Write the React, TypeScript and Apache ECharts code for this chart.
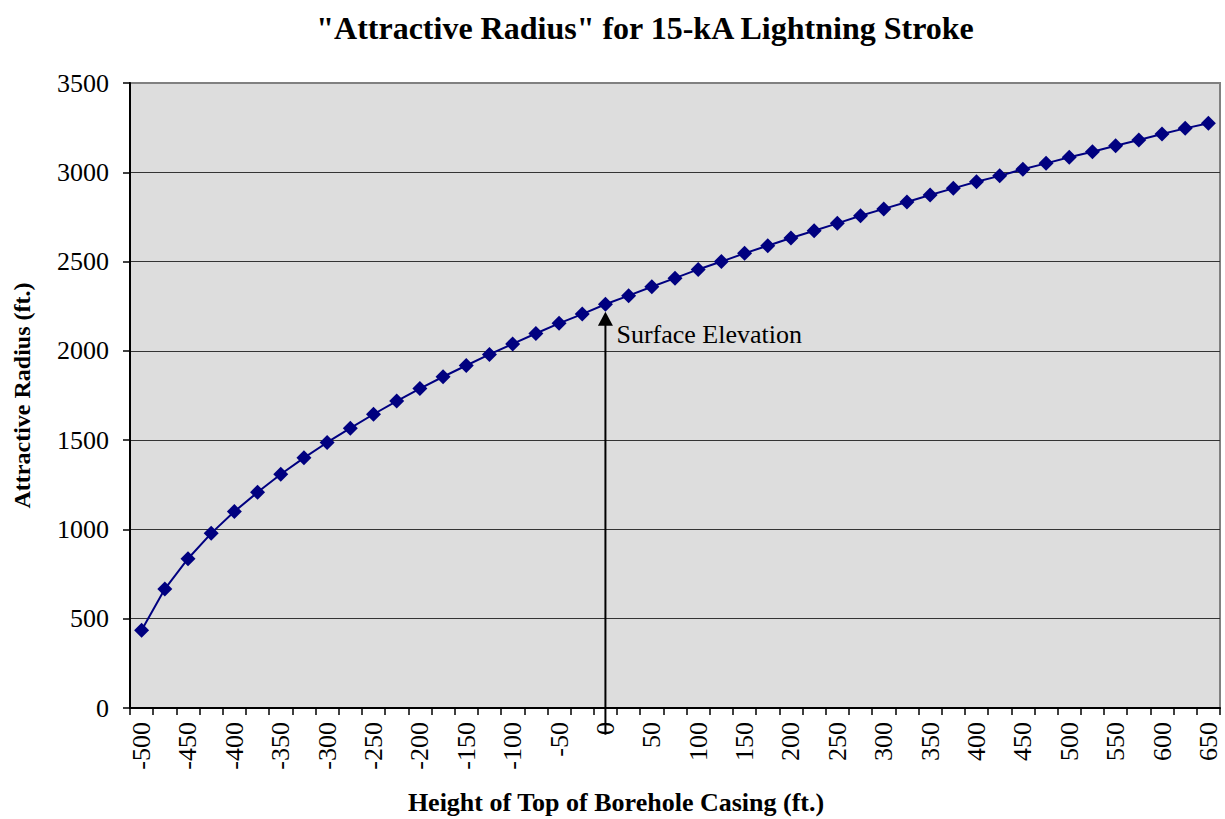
import React, { useEffect, useRef } from "react";
import * as echarts from "echarts";

const categories = [
  "-500", "-475", "-450", "-425", "-400", "-375", "-350", "-325", "-300", "-275",
  "-250", "-225", "-200", "-175", "-150", "-125", "-100", "-75", "-50", "-25",
  "0", "25", "50", "75", "100", "125", "150", "175", "200", "225",
  "250", "275", "300", "325", "350", "375", "400", "425", "450", "475",
  "500", "525", "550", "575", "600", "625", "650",
];

const radiusValues = [
  436, 666, 836, 978, 1100, 1208, 1309, 1401, 1487, 1567,
  1645, 1719, 1789, 1855, 1918, 1980, 2039, 2097, 2154, 2206,
  2261, 2309, 2359, 2407, 2456, 2500, 2546, 2589, 2632, 2673,
  2714, 2757, 2795, 2834, 2873, 2910, 2947, 2980, 3017, 3050,
  3084, 3115, 3149, 3181, 3214, 3246, 3275,
];

const yTicks = { min: 0, max: 3500, interval: 500 };

const titleText = '"Attractive Radius" for 15-kA Lightning Stroke';
const xAxisTitle = "Height of Top of Borehole Casing (ft.)";
const yAxisTitle = "Attractive Radius (ft.)";
const annotationText = "Surface Elevation";
const arrowCategory = "0";
const arrowFrom = -150;
const arrowTo = 2180;
const annotationValue = 2089;

const FONT = '"Liberation Serif", "Times New Roman", Times, serif';

export default function App() {
  const ref = useRef<HTMLDivElement>(null);

  useEffect(() => {
    if (!ref.current) return;
    const chart = echarts.init(ref.current, undefined, { renderer: "svg" });
    chart.setOption({
      animation: false,
      backgroundColor: "#ffffff",
      textStyle: { fontFamily: FONT },
      title: [
        {
          text: titleText,
          left: 640,
          top: 7,
          textAlign: "center",
          textStyle: { fontFamily: FONT, fontSize: 32, fontWeight: "bold", color: "#000" },
        },
        {
          text: xAxisTitle,
          left: 611,
          top: 784,
          textAlign: "center",
          textStyle: { fontFamily: FONT, fontSize: 26, fontWeight: "bold", color: "#000" },
        },
      ],
      grid: {
        left: 130,
        right: 5,
        top: 83,
        bottom: 111,
        show: true,
        backgroundColor: "#dddddd",
        borderColor: "#808080",
        borderWidth: 2,
      },
      xAxis: {
        type: "category",
        data: categories,
        boundaryGap: true,
        axisLine: { show: true, lineStyle: { color: "#000", width: 2 } },
        axisTick: { show: true, interval: 0, length: 7, lineStyle: { color: "#000", width: 1.5 } },
        axisLabel: {
          interval: 1,
          rotate: 90,
          margin: 14,
          fontFamily: FONT,
          fontSize: 26,
          color: "#000",
        },
        splitLine: { show: false },
      },
      yAxis: {
        type: "value",
        min: yTicks.min,
        max: yTicks.max,
        interval: yTicks.interval,
        name: yAxisTitle,
        nameLocation: "middle",
        nameGap: 96,
        nameTextStyle: { fontFamily: FONT, fontSize: 24, fontWeight: "bold", color: "#000" },
        axisLine: { show: true, lineStyle: { color: "#000", width: 2 } },
        axisTick: { show: true, length: 7, lineStyle: { color: "#000", width: 1.5 } },
        axisLabel: {
          margin: 21,
          fontFamily: FONT,
          fontSize: 26,
          color: "#000",
          formatter: (v: number) => String(v),
        },
        splitLine: { show: true, showMaxLine: false, lineStyle: { color: "#333", width: 1.2 } },
      },
      series: [
        {
          type: "line",
          data: [
            { value: [arrowCategory, arrowFrom], symbol: "none" },
            { value: [arrowCategory, arrowTo], symbol: "triangle", symbolSize: [15, 14] },
          ],
          clip: false,
          silent: true,
          z: 3,
          lineStyle: { color: "#000", width: 2 },
          itemStyle: { color: "#000" },
        },
        {
          type: "line",
          data: radiusValues,
          clip: false,
          z: 4,
          symbol: "diamond",
          symbolSize: 15,
          lineStyle: { color: "#000080", width: 2 },
          itemStyle: { color: "#000080" },
          markPoint: {
            silent: true,
            symbol: "circle",
            symbolSize: 0,
            label: {
              show: true,
              position: "right",
              distance: 11,
              formatter: annotationText,
              fontFamily: FONT,
              fontSize: 26,
              color: "#000",
            },
            data: [{ coord: [arrowCategory, annotationValue] }],
          },
        },
      ],
    });
    return () => chart.dispose();
  }, []);

  return <div ref={ref} style={{ width: 1225, height: 819, position: "absolute", left: 0, top: 0 }} />;
}
